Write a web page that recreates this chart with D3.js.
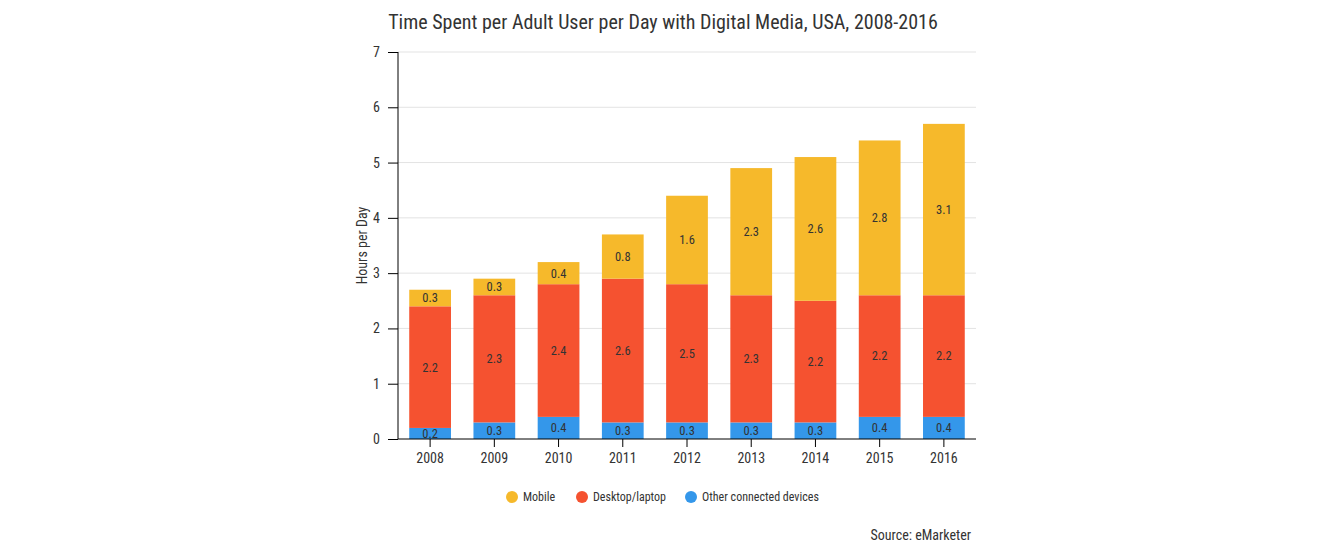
<!DOCTYPE html>
<html><head><meta charset="utf-8">
<script src="https://cdn.jsdelivr.net/npm/d3@7"></script>
<style>
html,body{margin:0;padding:0;background:#fff;}
svg text{font-family:"Roboto Condensed","Liberation Sans Narrow","Roboto",sans-serif;font-stretch:condensed;}
</style></head>
<body><svg id="c" width="1330" height="554"></svg>
<script>
const years = ["2008","2009","2010","2011","2012","2013","2014","2015","2016"];
const other = [0.2,0.3,0.4,0.3,0.3,0.3,0.3,0.4,0.4];
const desktop = [2.2,2.3,2.4,2.6,2.5,2.3,2.2,2.2,2.2];
const mobile = [0.3,0.3,0.4,0.8,1.6,2.3,2.6,2.8,3.1];
const seriesNames = ["Mobile","Desktop/laptop","Other connected devices"];
const seriesColors = ["#F6B92B","#F55230","#3497EA"];
const yTicks = [0,1,2,3,4,5,6,7];

const svg = d3.select("#c");
const m = {l:398, r:976, t:52, b:439};
const x = d3.scaleBand().domain(years).range([m.l, m.r]).paddingInner(0.35).paddingOuter(0.175);
const y = d3.scaleLinear().domain([0,7]).range([m.b, m.t]);

// grid
svg.append("g").selectAll("line").data(yTicks.filter(d=>d>0)).join("line")
  .attr("x1", m.l).attr("x2", m.r).attr("y1", d=>y(d)).attr("y2", d=>y(d))
  .attr("stroke","#e3e3e3").attr("stroke-width",1);

// stacked data
const rows = years.map((yr,i)=>({year:yr, other:other[i], desktop:desktop[i], mobile:mobile[i]}));
const keys = ["other","desktop","mobile"];
const colorOf = {other:seriesColors[2], desktop:seriesColors[1], mobile:seriesColors[0]};
const stack = d3.stack().keys(keys)(rows);

const g = svg.append("g");
stack.forEach(layer=>{
  g.append("g").selectAll("rect").data(layer).join("rect")
    .attr("x", d=>x(d.data.year)).attr("width", x.bandwidth())
    .attr("y", d=>y(d[1])).attr("height", d=>y(d[0])-y(d[1]))
    .attr("fill", colorOf[layer.key]);
  g.append("g").selectAll("text").data(layer).join("text")
    .attr("x", d=>x(d.data.year)+x.bandwidth()/2)
    .attr("y", d=>(y(d[0])+y(d[1]))/2)
    .attr("dy","0.35em").attr("text-anchor","middle")
    .attr("font-size",12.5).attr("fill","#333")
    .text(d=>d.data[layer.key].toFixed(1));
});

// axes
const ya = svg.append("g").attr("transform",`translate(${m.l},0)`)
  .call(d3.axisLeft(y).tickValues(yTicks).tickSize(10).tickPadding(8).tickFormat(d3.format("d")));
ya.select(".domain").attr("stroke","#000").attr("d",`M0,${m.t}V${m.b}`);
ya.selectAll(".tick line").attr("stroke","#000");
ya.selectAll("text").attr("font-size",14).attr("fill","#333");

const xa = svg.append("g").attr("transform",`translate(0,${m.b})`)
  .call(d3.axisBottom(x).tickSize(8).tickPadding(6));
xa.select(".domain").attr("stroke","#000").attr("d",`M${m.l},0H${m.r}`);
xa.selectAll(".tick line").attr("stroke","#000");
xa.selectAll("text").attr("font-size",14).attr("fill","#333");

// y title
svg.append("text").attr("transform",`translate(367,${(m.t+m.b)/2}) rotate(-90)`)
  .attr("text-anchor","middle").attr("font-size",14).attr("fill","#333").text("Hours per Day");

// title
svg.append("text").attr("x",663).attr("y",29).attr("text-anchor","middle")
  .attr("font-size",20).attr("fill","#333").text("Time Spent per Adult User per Day with Digital Media, USA, 2008-2016");

// legend
const legX = [512, 582, 691];
const lg = svg.append("g");
seriesNames.forEach((n,i)=>{
  lg.append("circle").attr("cx",legX[i]).attr("cy",497).attr("r",6).attr("fill",seriesColors[i]);
  lg.append("text").attr("x",legX[i]+11).attr("y",497).attr("dy","0.35em")
    .attr("font-size",12).attr("fill","#333").text(n);
});

// source
svg.append("text").attr("x",971).attr("y",540).attr("text-anchor","end")
  .attr("font-size",14).attr("fill","#333").text("Source: eMarketer");
</script></body></html>
